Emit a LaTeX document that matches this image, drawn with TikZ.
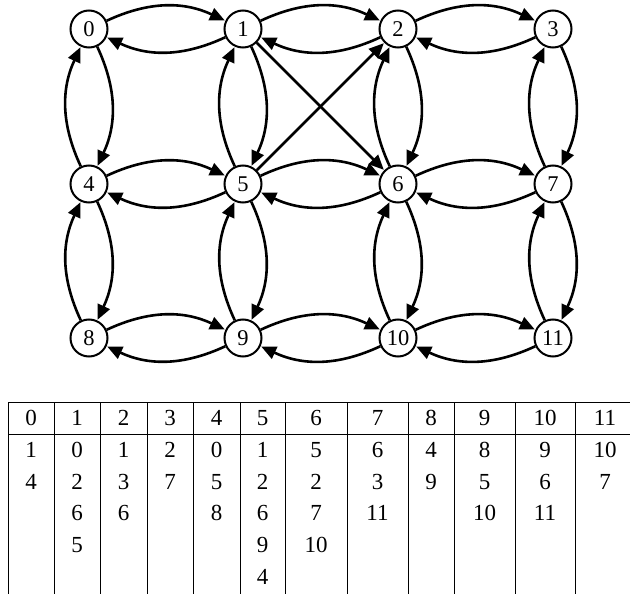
\documentclass[tikz,border=0pt]{standalone}
\usepackage{fontspec}
\setmainfont{Liberation Serif}
\usetikzlibrary{arrows.meta}
\begin{document}
\begin{tikzpicture}[x=1pt,y=-1pt,
  vtx/.style={circle,draw,line width=2pt,minimum size=37pt,inner sep=0pt,font=\fontsize{22.5}{26}\selectfont},
  arc/.style={line width=2.6pt,-{Triangle[length=15pt,width=13pt]},shorten >=0.5pt},
  cell/.style={font=\fontsize{23}{27}\selectfont,inner sep=0pt,anchor=center},
  rule/.style={line width=1pt}]
\useasboundingbox (0,0) rectangle (630,594);
% vertices
\foreach \i/\x/\y in {0/89/29,1/243/29,2/398/29,3/553/29,4/89/184,5/243/184,6/398/184,7/553/184,8/89/338,9/243/338,10/398/338,11/553/338}
  \node[vtx] (v\i) at (\x,\y) {\i};
% paired arcs
\foreach \a/\b in {0/1,1/2,2/3,4/5,5/6,6/7,8/9,9/10,10/11,0/4,4/8,1/5,5/9,2/6,6/10,3/7,7/11}{
  \draw[arc] (v\a) to[bend left=25] (v\b);
  \draw[arc] (v\b) to[bend left=25] (v\a);
}
% diagonals
\draw[arc] (v1) -- (v6);
\draw[arc] (v5) -- (v2);
% table
\draw[rule] (8,402) -- (630,402);
\draw[rule] (8,434) -- (630,434);
\foreach \x in {8,54,100,147,193,240,285,347,408,454,515,575}
  \draw[rule] (\x,402) -- (\x,594);
\foreach \c/\cx/\items in {0/31/{1,4},1/77/{0,2,6,5},2/123.5/{1,3,6},3/170/{2,7},4/216.5/{0,5,8},5/262.5/{1,2,6,9,4},6/316/{5,2,7,10},7/377.5/{6,3,11},8/431/{4,9},9/484.5/{8,5,10},10/545/{9,6,11},11/605/{10,7}}{
  \node[cell] (h\c) at (\cx,418) {\c};
  \foreach \it [count=\r] in \items
    \node[cell] (t\c-\r) at (\cx,418+31.8*\r) {\it};
}
\end{tikzpicture}
\end{document}
